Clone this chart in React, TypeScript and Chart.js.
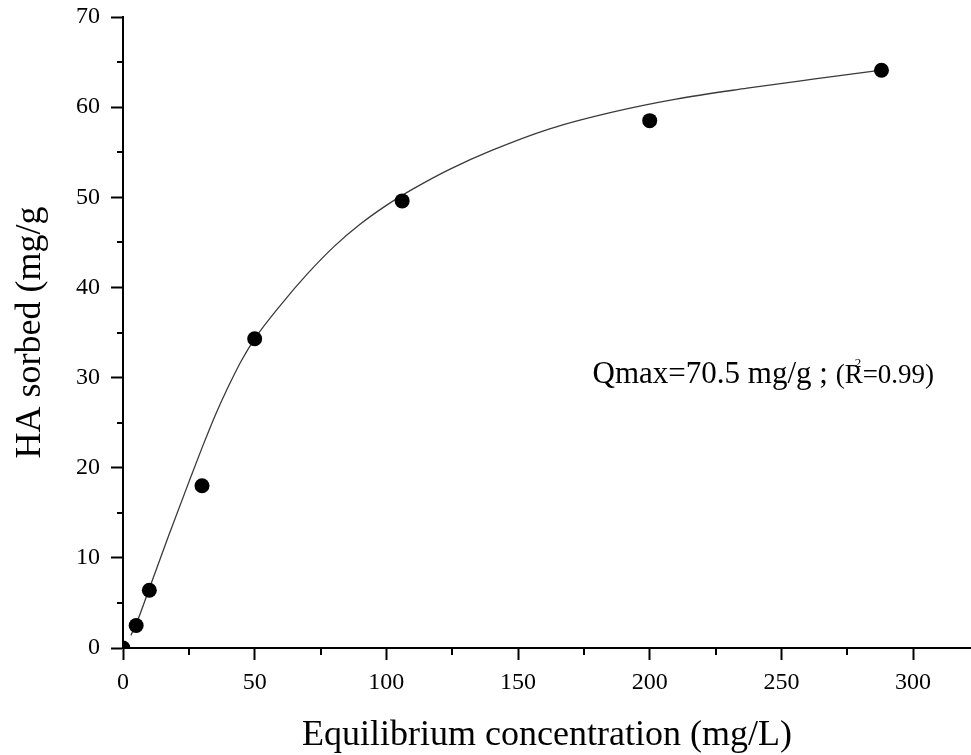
import React, { useEffect, useRef } from 'react';
import { Chart, registerables } from 'chart.js';

Chart.register(...registerables);

// Measured isotherm points (equilibrium concentration mg/L, HA sorbed mg/g)
const measuredC = [0, 5, 10, 30, 50, 106, 200, 288];
const measuredQ = [0, 2.5, 6.4, 18.0, 34.3, 49.6, 58.5, 64.1];

// Fitted curve
const fitC = [3, 5.2, 10, 17, 25, 30, 35, 40, 45, 50, 60, 70, 80, 90, 100, 110, 124, 140, 162, 185, 210, 237, 262, 288];
const fitQ = [1.4, 2.8, 6.6, 12.2, 18.4, 22.2, 25.8, 29.0, 31.9, 34.3, 38.1, 41.5, 44.5, 47.0, 49.1, 50.9, 53.1, 55.2, 57.6, 59.4, 60.9, 62.1, 63.1, 64.1];

const xMajorStep = 50;
const yMajorStep = 10;
const xMinorTicks = [25, 75, 125, 175, 225, 275];
const yMinorTicks = [5, 15, 25, 35, 45, 55, 65];

const xTitle = 'Equilibrium concentration (mg/L)';
const yTitle = 'HA sorbed (mg/g';
const annotMain = 'Qmax=70.5 mg/g ; ';
const annotR = '(R';
const annotSup = '2';
const annotTail = '=0.99)';
const annotAt = { x: 178.3, y: 29.4 };

const SERIF = '"Liberation Serif", "Times New Roman", serif';

const overlayPlugin = {
  id: 'overlay',
  afterDraw(chart: any) {
    const { ctx, chartArea, scales } = chart;
    const xs = scales.x;
    const ys = scales.y;
    ctx.save();
    ctx.strokeStyle = '#000';
    ctx.lineWidth = 2;
    // minor ticks
    for (const v of xMinorTicks) {
      const px = Math.round(xs.getPixelForValue(v));
      ctx.beginPath();
      ctx.moveTo(px, chartArea.bottom);
      ctx.lineTo(px, chartArea.bottom + 7);
      ctx.stroke();
    }
    for (const v of yMinorTicks) {
      const py = Math.round(ys.getPixelForValue(v));
      ctx.beginPath();
      ctx.moveTo(chartArea.left, py);
      ctx.lineTo(chartArea.left - 6, py);
      ctx.stroke();
    }
    ctx.fillStyle = '#000';
    // x title
    ctx.font = `36px ${SERIF}`;
    ctx.textAlign = 'center';
    ctx.textBaseline = 'alphabetic';
    ctx.fillText(xTitle, (chartArea.left + chartArea.right) / 2, 745);
    // y title
    ctx.save();
    ctx.translate(40, (chartArea.top + chartArea.bottom) / 2);
    ctx.rotate(-Math.PI / 2);
    ctx.fillText(yTitle, 0, 0);
    ctx.restore();
    // annotation
    const ax = xs.getPixelForValue(annotAt.x);
    const ay = ys.getPixelForValue(annotAt.y);
    ctx.textAlign = 'left';
    ctx.font = `31px ${SERIF}`;
    ctx.fillText(annotMain, ax, ay);
    let cx = ax + ctx.measureText(annotMain).width;
    ctx.font = `27px ${SERIF}`;
    ctx.fillText(annotR, cx, ay);
    cx += ctx.measureText(annotR).width;
    ctx.font = `13px ${SERIF}`;
    ctx.fillText(annotSup, cx - 8, ay - 16);
    ctx.font = `27px ${SERIF}`;
    ctx.fillText(annotTail, cx, ay);
    ctx.restore();
  },
};

export default function App() {
  const ref = useRef<HTMLCanvasElement>(null);
  useEffect(() => {
    if (!ref.current) return;
    const chart = new Chart(ref.current, {
      type: 'scatter',
      data: {
        datasets: [
          {
            label: 'measured',
            data: measuredC.map((c, i) => ({ x: c, y: measuredQ[i] })),
            backgroundColor: '#000',
            borderColor: '#000',
            pointRadius: 7.5,
            pointBorderWidth: 0,
            showLine: false,
            clip: 0,
          } as any,
          {
            label: 'fit',
            data: fitC.map((c, i) => ({ x: c, y: fitQ[i] })),
            showLine: true,
            borderColor: '#3a3a3a',
            borderWidth: 1.3,
            pointRadius: 0,
            cubicInterpolationMode: 'monotone',
            fill: false,
          } as any,
        ],
      },
      options: {
        animation: false,
        responsive: false,
        maintainAspectRatio: false,
        layout: { autoPadding: false, padding: { top: 17, left: 0, right: 0, bottom: 0 } },
        plugins: { legend: { display: false }, tooltip: { enabled: false } },
        scales: {
          x: {
            type: 'linear',
            min: 0,
            max: 322,
            afterFit: (s: any) => { s.height = 107; },
            ticks: { stepSize: xMajorStep, includeBounds: false, font: { family: SERIF, size: 24 }, color: '#000', padding: 8, maxRotation: 0 },
            grid: { display: true, drawOnChartArea: false, drawTicks: true, tickLength: 12, tickWidth: 2, tickColor: '#000' },
            border: { display: true, color: '#000', width: 2 },
          },
          y: {
            type: 'linear',
            min: 0,
            max: 70,
            afterFit: (s: any) => { s.width = 123; },
            ticks: { stepSize: yMajorStep, includeBounds: false, font: { family: SERIF, size: 24, lineHeight: 0.4 }, color: '#000', padding: 11 },
            grid: { display: true, drawOnChartArea: false, drawTicks: true, tickLength: 12, tickWidth: 2, tickColor: '#000' },
            border: { display: true, color: '#000', width: 2 },
          },
        },
      },
      plugins: [overlayPlugin],
    });
    return () => chart.destroy();
  }, []);
  return (
    <div style={{ position: 'absolute', left: 0, top: 0, width: 971, height: 755, background: '#fff' }}>
      <canvas ref={ref} width={971} height={755} style={{ width: 971, height: 755, display: 'block' }} />
    </div>
  );
}
